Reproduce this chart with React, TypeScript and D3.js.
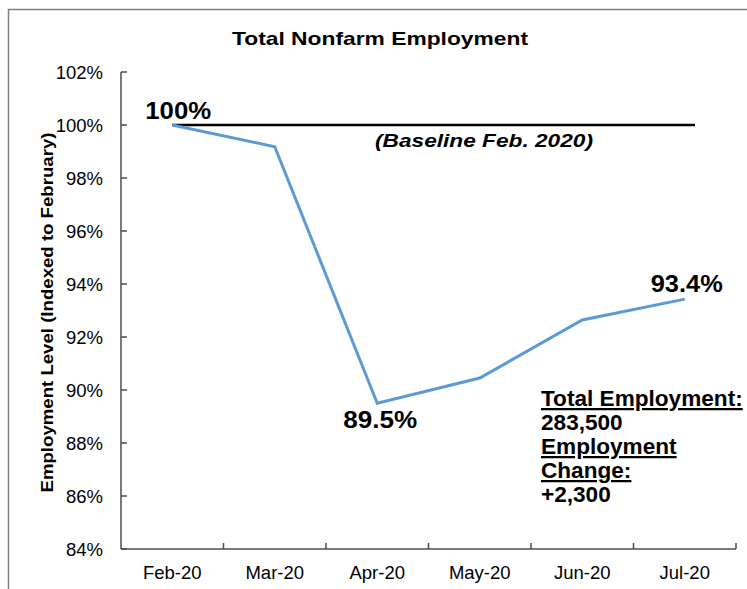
import * as d3 from "d3";

const months = ["Feb-20", "Mar-20", "Apr-20", "May-20", "Jun-20", "Jul-20"];
const employment = [100, 99.18, 89.5, 90.45, 92.64, 93.43];
const baseline = [100, 100, 100, 100, 100, 100];
const yTicks = [84, 86, 88, 90, 92, 94, 96, 98, 100, 102];
const pointLabels = [
  { i: 0, text: "100%", dx: 6, dy: -6, len: 66 },
  { i: 2, text: "89.5%", dx: 3, dy: 25, len: 74 },
  { i: 5, text: "93.4%", dx: 2, dy: -7, len: 72 },
];
const infoLines = [
  { text: "Total Employment:", underline: true },
  { text: "283,500", underline: false },
  { text: "Employment", underline: true },
  { text: "Change:", underline: true },
  { text: "+2,300", underline: false },
];

const W = 747;
const H = 589;
const font = "'Liberation Sans', Arial, sans-serif";

export default function App() {
  const x = d3.scaleBand<string>().domain(months).range([121, 736]).paddingInner(0).paddingOuter(0);
  const y = d3.scaleLinear().domain([84, 102]).range([549, 72]);
  const cx = (i: number) => (x(months[i]) as number) + x.bandwidth() / 2;

  const line = d3
    .line<number>()
    .x((_, i) => cx(i))
    .y((d) => y(d));

  const boundaries = months.map((m) => (x(m) as number) + x.bandwidth());
  const axisColor = "#4d4d4d";
  const baseEnd = cx(months.length - 1) + x.bandwidth() * 0.1;

  return (
    <svg
      width={W}
      height={H}
      style={{ position: "absolute", left: 0, top: 0, background: "#fff" }}
      fontFamily={font}
    >
      <rect x={8.5} y={9.5} width={800} height={700} fill="#fff" stroke="#7f7f7f" strokeWidth={1.5} />

      <text x={380} y={45} textAnchor="middle" fontSize={19} fontWeight="bold" textLength={296} lengthAdjust="spacingAndGlyphs">
        Total Nonfarm Employment
      </text>

      {/* y axis */}
      <line x1={121} x2={121} y1={y(102)} y2={y(84)} stroke={axisColor} strokeWidth={1.5} />
      {yTicks.map((t) => (
        <g key={t}>
          <line x1={121} x2={127} y1={y(t)} y2={y(t)} stroke={axisColor} strokeWidth={1.5} />
          <text x={103} y={y(t) + 6.5} textAnchor="end" fontSize={18.5}>
            {t}%
          </text>
        </g>
      ))}

      {/* x axis */}
      <line x1={121} x2={736} y1={y(84)} y2={y(84)} stroke={axisColor} strokeWidth={1.5} />
      {boundaries.map((b, i) => (
        <line key={i} x1={b} x2={b} y1={y(84)} y2={y(84) - 6} stroke={axisColor} strokeWidth={1.5} />
      ))}
      {months.map((m, i) => (
        <text key={m} x={cx(i)} y={579} textAnchor="middle" fontSize={18.5}>
          {m}
        </text>
      ))}

      <text
        transform={`translate(53,${(y(84) + y(102)) / 2 + 2}) rotate(-90)`}
        textAnchor="middle"
        fontSize={16.5}
        fontWeight="bold"
        textLength={360}
        lengthAdjust="spacingAndGlyphs"
      >
        Employment Level (Indexed to February)
      </text>

      {/* baseline */}
      <line x1={cx(0)} x2={baseEnd} y1={y(baseline[0])} y2={y(baseline[baseline.length - 1])} stroke="#000" strokeWidth={2.5} />
      <text x={484} y={147} textAnchor="middle" fontSize={18} fontWeight="bold" fontStyle="italic" textLength={218} lengthAdjust="spacingAndGlyphs">
        (Baseline Feb. 2020)
      </text>

      <path d={line(employment) || ""} fill="none" stroke="#5b9bd5" strokeWidth={3} strokeLinejoin="miter" />

      {pointLabels.map((p) => (
        <text
          key={p.text}
          x={cx(p.i) + p.dx}
          y={y(employment[p.i]) + p.dy}
          textAnchor="middle"
          fontSize={24}
          fontWeight="bold"
          textLength={p.len}
          lengthAdjust="spacingAndGlyphs"
        >
          {p.text}
        </text>
      ))}

      {infoLines.map((l, i) => (
        <text
          key={l.text}
          x={541}
          y={406 + i * 24}
          fontSize={22.6}
          fontWeight="bold"
          style={l.underline ? { textDecoration: "underline" } : undefined}
        >
          {l.text}
        </text>
      ))}
    </svg>
  );
}
